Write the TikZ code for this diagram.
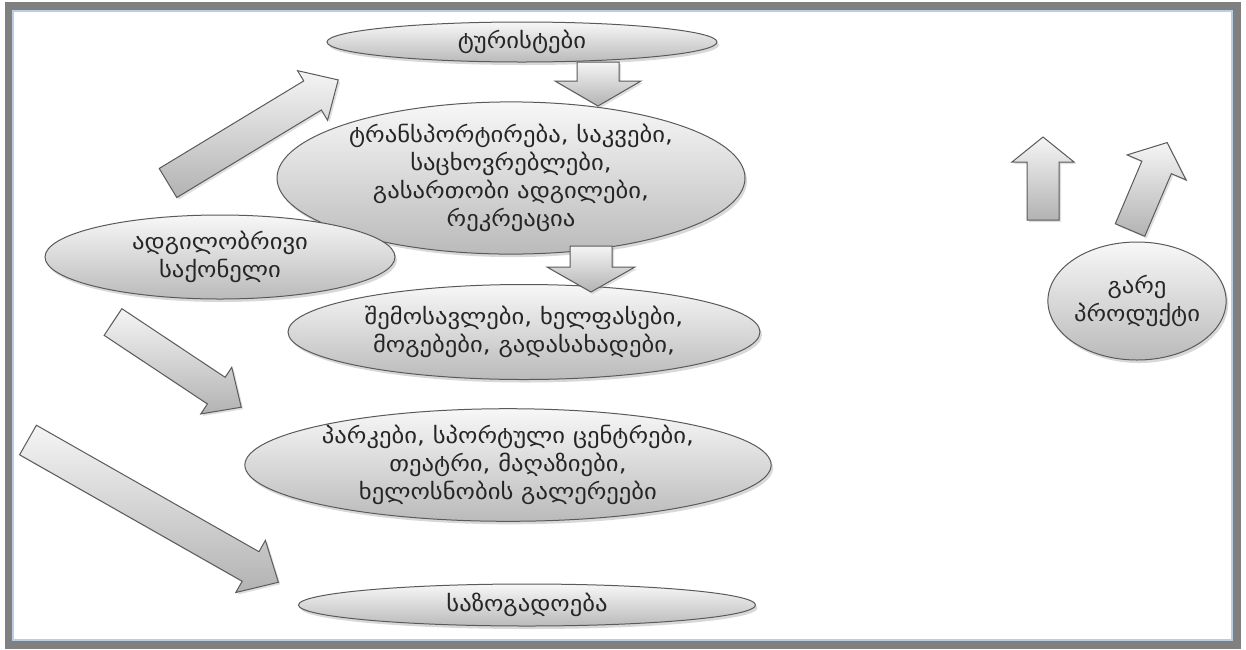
\documentclass[tikz,border=0pt]{standalone}
\usepackage{fontspec}
\setmainfont[FakeStretch=1.12]{DejaVu Sans}
\usetikzlibrary{shapes.geometric,shadows}
\definecolor{framegray}{RGB}{128,128,128}
\definecolor{frameblue}{RGB}{185,205,228}
\definecolor{edgegray}{RGB}{90,90,90}
\tikzset{
  ell/.style={ellipse, draw=edgegray, line width=1pt, inner sep=0pt,
    top color=black!3, bottom color=black!27,
    drop shadow={opacity=0.3, shadow xshift=2pt, shadow yshift=-3pt},
    align=center, font=\fontsize{22}{28}\selectfont, text=black!85},
  barrowstyle/.style={draw=edgegray, line width=1pt,
    top color=black!4, bottom color=black!30,
    drop shadow={opacity=0.25, shadow xshift=2pt, shadow yshift=-2pt}}
}
% #1 tail centre, #2 angle, #3 length, #4 shaft half width, #5 head half width, #6 head length
\newcommand\barrow[6]{%
  \draw[barrowstyle, shift={#1}, rotate=#2]
    (0,-#4) -- ({#3-#6},-#4) -- ({#3-#6},-#5) -- (#3,0) -- ({#3-#6},#5)
    -- ({#3-#6},#4) -- (0,#4) -- cycle;}
\begin{document}
\begin{tikzpicture}[x=1pt,y=-1pt]
\useasboundingbox (0,0) rectangle (1246,649);
% frame
\fill[framegray] (5,2) rectangle (1241,649);
\fill[white] (12,10) rectangle (1233,641);
\draw[frameblue, line width=2pt] (13,11) rectangle (1232,640);

% ellipses
\node[ell, minimum width=390pt, minimum height=40pt] (tour) at (522,42) {ტურისტები};
\node[ell, minimum width=468pt, minimum height=136pt] (trans) at (511,178)
  {ტრანსპორტირება, საკვები,\\საცხოვრებლები,\\გასართობი ადგილები,\\რეკრეაცია};
\node[ell, minimum width=350pt, minimum height=84pt] (local) at (220,257)
  {ადგილობრივი\\საქონელი};
\node[ell, minimum width=472pt, minimum height=95pt] (income) at (524,332)
  {შემოსავლები, ხელფასები,\\მოგებები, გადასახადები,};
\node[ell, minimum width=523pt, minimum height=105pt] (parks) at (508,465)
  {პარკები, სპორტული ცენტრები,\\თეატრი, მაღაზიები,\\ხელოსნობის გალერეები};
\node[ell, minimum width=457pt, minimum height=42pt] (soc) at (527,605) {საზოგადოება};
\node[ell, minimum width=140pt, minimum height=118pt] (ext) at (1137,301)
  {გარე\\პროდუქტი};

% block arrows
\barrow{(168,183)}{31.2}{199}{17}{29}{30}
\barrow{(598,62)}{-90}{44}{21}{43}{25}
\barrow{(591,246)}{-90}{46}{21}{44}{25}
\barrow{(113,322)}{-33.6}{154}{16}{28}{30}
\barrow{(28,440)}{-29.6}{288}{17}{30}{32}
\barrow{(1043,220)}{90}{83}{16}{31}{25}
\barrow{(1130,230)}{67}{95}{16}{32}{27}
\end{tikzpicture}
\end{document}
